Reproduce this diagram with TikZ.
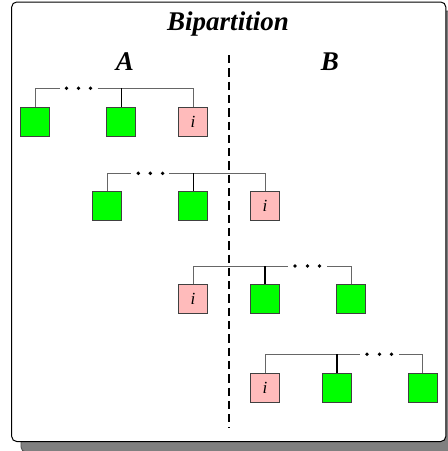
\documentclass[tikz,border=0pt]{standalone}
\usepackage{fontspec}
\setmainfont{Liberation Serif}
\definecolor{leafgreen}{HTML}{00FF00}
\definecolor{leafpink}{HTML}{FFBBBB}
\definecolor{shadowgray}{HTML}{808080}
\begin{document}
\begin{tikzpicture}[x=1pt,y=-1pt,
  leaf/.style={draw=black!75, line width=0.9pt, minimum size=29pt, inner sep=0pt,
    font=\fontsize{17}{17}\selectfont\itshape},
  gbox/.style={leaf, fill=leafgreen},
  ibox/.style={leaf, fill=leafpink},
  twig/.style={draw=black!60, line width=0.9pt},
  stem/.style={draw=black, line width=1.3pt},
  heading/.style={font=\fontsize{27}{30}\selectfont\bfseries\itshape, inner sep=0pt, anchor=base},
  cut/.style={line width=1.8pt, dash pattern=on 8.3pt off 5pt},
  dot/.style={fill=black}
]
\useasboundingbox (0,0) rectangle (448,451);

% shadowed frame
\draw[rounded corners=5pt, fill=shadowgray, draw=black!70, line width=0.8pt] (21,11) rectangle (456,452);
\draw[rounded corners=5pt, fill=white, draw=black, line width=1pt] (11.7,2) rectangle (445.8,441.5);

% headings
\node[heading] (title) at (228,30) {Bipartition};
\node[heading] (partA) at (125,70) {A};
\node[heading] (partB) at (330,70) {B};

% row 1
\node[gbox] (a1) at (35.3,122.2) {};
\node[gbox] (a2) at (121.2,122.2) {};
\node[ibox] (a3) at (193,122.2) {i};
\coordinate (a-gl) at (59.5,88.3);
\coordinate (a-gr) at (97.5,88.3);
\draw[twig] (a1.north) |- (a-gl);
\draw[twig] (a-gr) -| (a3.north);
\draw[stem] (a2.north) -- (a2.north |- a-gr);
\foreach \x in {66.5,78.5,90.5} \fill[dot] (\x,88.3) circle (1.9pt);

% row 2
\node[gbox] (b1) at (107,206.3) {};
\node[gbox] (b2) at (193.3,206.3) {};
\node[ibox] (b3) at (265,206.3) {i};
\coordinate (b-gl) at (130.5,173.3);
\coordinate (b-gr) at (169,173.3);
\draw[twig] (b1.north) |- (b-gl);
\draw[twig] (b-gr) -| (b3.north);
\draw[stem] (b2.north) -- (b2.north |- b-gr);
\foreach \x in {138.3,150.3,162.6} \fill[dot] (\x,173.3) circle (1.9pt);

% row 3
\node[ibox] (c1) at (193,299.2) {i};
\node[gbox] (c2) at (265,299.2) {};
\node[gbox] (c3) at (351,299.2) {};
\coordinate (c-gl) at (288,266);
\coordinate (c-gr) at (327,266);
\draw[twig] (c1.north) |- (c-gl);
\draw[twig] (c-gr) -| (c3.north);
\draw[stem] (c2.north) -- (c2.north |- c-gl);
\foreach \x in {295,307.5,319.5} \fill[dot] (\x,266) circle (1.9pt);

% row 4
\node[ibox] (d1) at (265,388.2) {i};
\node[gbox] (d2) at (337,388.2) {};
\node[gbox] (d3) at (422.7,388.2) {};
\coordinate (d-gl) at (360,354.3);
\coordinate (d-gr) at (399,354.3);
\draw[twig] (d1.north) |- (d-gl);
\draw[twig] (d-gr) -| (d3.north);
\draw[stem] (d2.north) -- (d2.north |- d-gl);
\foreach \x in {367,379.5,391.5} \fill[dot] (\x,354.3) circle (1.9pt);

% dividing cut between A and B
\coordinate (cut-top) at (229.3,55);
\coordinate (cut-bot) at (229.3,428);
\draw[cut] (cut-top) -- (cut-bot);
\end{tikzpicture}
\end{document}
